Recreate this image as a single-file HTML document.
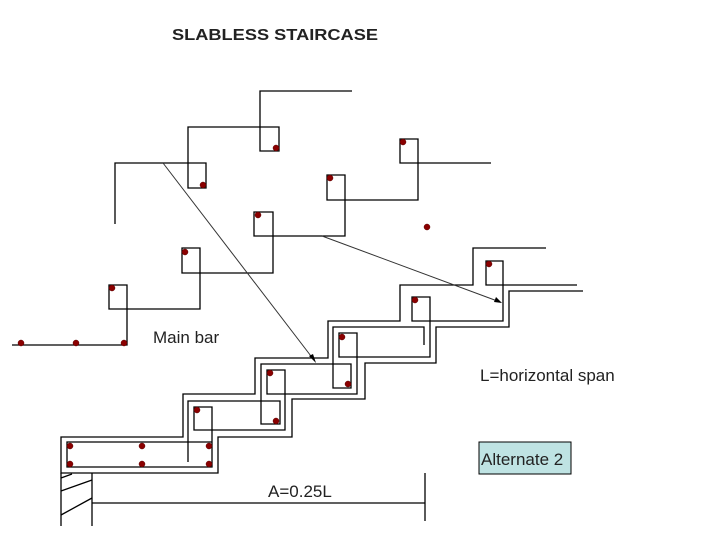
<!DOCTYPE html>
<html><head><meta charset="utf-8"><style>html,body{margin:0;padding:0;background:#fff}svg{display:block}</style></head>
<body>
<svg width="728" height="546" viewBox="0 0 728 546" xmlns="http://www.w3.org/2000/svg" font-family="Liberation Sans, sans-serif">
<rect width="728" height="546" fill="#fff"/>
<text x="172" y="40" font-size="16" font-weight="bold" fill="#222" textLength="206" lengthAdjust="spacingAndGlyphs">SLABLESS STAIRCASE</text>
<g fill="none" stroke="#000" stroke-width="1.3">
<polyline points="352,91 260,91 260,151 279,151 279,127 188,127 188,188 206,188 206,163 115,163 115,224"/>
<polyline points="491,163 400,163 400,139 418,139 418,200 327,200 327,175 345,175 345,236 254,236 254,212 273,212 273,273 182,273 182,248 200,248 200,309 109,309 109,285 127,285 127,345 12,345"/>
<polyline points="546,248 473,248 473,285 400,285 400,321 328,321 328,358 255,358 255,394 183,394 183,437 61,437 61,473 218,473 218,437 292,437 292,399 365,399 365,363 436,363 436,327 509,327 509,291 583,291"/>
<polyline points="577,285 486,285 486,261 503,261 503,321 412,321 412,297 430,297 430,357 339,357 339,333 357,333 357,394 267,394 267,370 285,370 285,430 194,430 194,407 212,407 212,467 67,467 67,442 212,442"/>
<polyline points="188,462 188,401 280,401 280,424 261,424 261,364 351,364 351,388 333,388 333,327 424,327 424,345"/>
<line x1="61" y1="473" x2="61" y2="526"/>
<line x1="92" y1="473" x2="92" y2="526"/>
<line x1="61" y1="478" x2="72" y2="474"/>
<line x1="61" y1="491" x2="92" y2="480"/>
<line x1="61" y1="515" x2="92" y2="498"/>
<line x1="92" y1="503" x2="425" y2="503"/>
<line x1="425" y1="473" x2="425" y2="521"/>
</g>
<g stroke="#333" stroke-width="1">
<line x1="163" y1="163" x2="314" y2="360"/>
<line x1="322" y1="236" x2="500" y2="302"/>
</g>
<polygon points="316,363 309,356 313,354" fill="#000"/>
<polygon points="502,303 494,302 496,297" fill="#000"/>
<g fill="#8b0000" stroke="#5a0000" stroke-width="0.5">
<circle cx="276" cy="148" r="3"/><circle cx="203" cy="185" r="3"/>
<circle cx="403" cy="142" r="3"/><circle cx="330" cy="178" r="3"/><circle cx="258" cy="215" r="3"/><circle cx="185" cy="252" r="3"/><circle cx="112" cy="288" r="3"/>
<circle cx="21" cy="343" r="3"/><circle cx="76" cy="343" r="3"/><circle cx="124" cy="343" r="3"/>
<circle cx="427" cy="227" r="3"/>
<circle cx="489" cy="264" r="3"/><circle cx="415" cy="300" r="3"/><circle cx="342" cy="337" r="3"/><circle cx="270" cy="373" r="3"/><circle cx="197" cy="410" r="3"/>
<circle cx="348" cy="384" r="3"/><circle cx="276" cy="421" r="3"/>
<circle cx="70" cy="446" r="3"/><circle cx="142" cy="446" r="3"/><circle cx="209" cy="446" r="3"/>
<circle cx="70" cy="464" r="3"/><circle cx="142" cy="464" r="3"/><circle cx="209" cy="464" r="3"/>
</g>
<text x="153" y="343" font-size="17" fill="#222">Main bar</text>
<text x="480" y="381" font-size="17" fill="#222">L=horizontal span</text>
<rect x="479" y="442" width="92" height="32" fill="#bfe3e3" stroke="#000" stroke-width="1"/>
<text x="481" y="465" font-size="17" fill="#222">Alternate 2</text>
<text x="268" y="497" font-size="17" fill="#222">A=0.25L</text>
</svg>
</body></html>
